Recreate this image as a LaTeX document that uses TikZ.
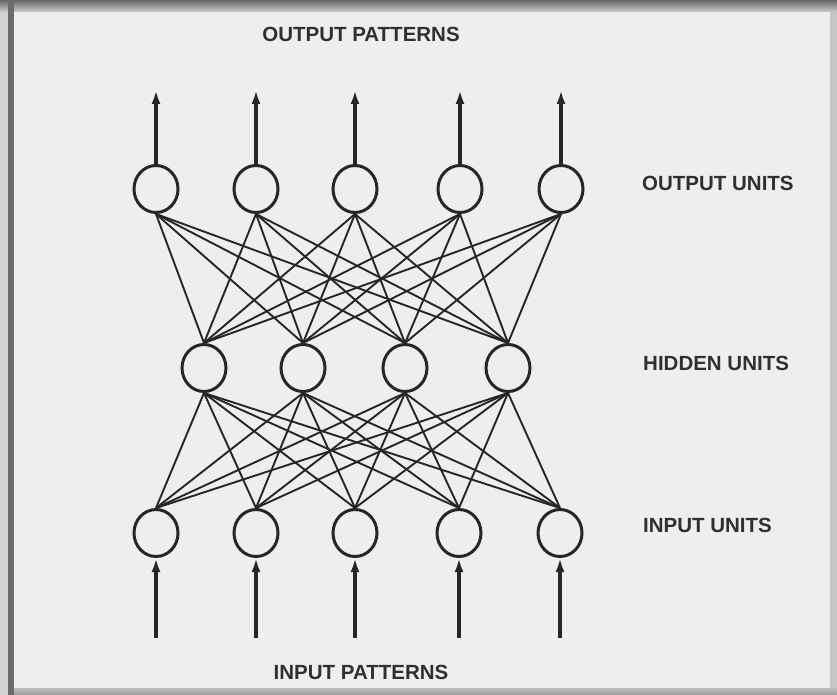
\documentclass[tikz,border=0pt]{standalone}
\usepackage{fontspec}
\setmainfont{Liberation Sans}
\usetikzlibrary{shapes.geometric,arrows.meta}
\definecolor{ink}{HTML}{262626}
\definecolor{paper}{HTML}{EEEEEE}
\definecolor{txt}{HTML}{303030}
\tikzset{
  unit/.style={ellipse,draw=ink,line width=3pt,minimum width=44pt,minimum height=47pt,inner sep=0pt,fill=paper},
  link/.style={draw=ink,line width=1.9pt},
  feed/.style={draw=ink,line width=3.2pt,-{Latex[length=14pt,width=9pt]}},
  lab/.style={font=\fontsize{20.5}{22}\selectfont\bfseries,text=txt,inner sep=0pt}
}
\begin{document}
\begin{tikzpicture}[x=1pt,y=-1pt]
\useasboundingbox (0,0) rectangle (837,695);
% frame and paper
\fill[gray!35] (0,0) rectangle (837,695);
\fill[paper] (14,12) rectangle (830,688);
\shade[top color=gray!80!black,bottom color=gray!40] (0,0) rectangle (837,12);
\fill[gray!85!black] (8,0) rectangle (14,695);
\shade[top color=gray!50,bottom color=gray!80] (14,688) rectangle (837,695);
\fill[gray!45] (830,12) rectangle (837,688);
% connections (drawn first, behind units)
\foreach \n/\x in {1/156,2/256,3/355,4/460,5/561}
  \coordinate (o\n c) at (\x,189);
\foreach \n/\x in {1/156,2/256,3/355,4/460,5/561}
  \node[unit] (o\n) at (\x,189) {};
\foreach \n/\x in {1/204,2/303,3/405,4/508}
  \node[unit] (h\n) at (\x,368) {};
\foreach \n/\x in {1/156,2/256,3/355,4/459,5/560}
  \node[unit] (i\n) at (\x,533) {};
\foreach \a in {1,...,5}
  \foreach \b in {1,...,4}
    \draw[link] (o\a.south) -- (h\b.north);
\foreach \a in {1,...,4}
  \foreach \b in {1,...,5}
    \draw[link] (h\a.south) -- (i\b.north);
% pattern arrows
\foreach \n/\x in {1/156,2/256,3/355,4/460,5/561}{
  \coordinate (t\n) at (\x,90);
  \draw[feed] (o\n.north) -- (t\n);
}
\foreach \n/\x in {1/156,2/256,3/355,4/459,5/560}{
  \coordinate (b\n) at (\x,638);
  \draw[feed] (b\n) -- (i\n.south);
}
% labels
\node[lab] (outpat) at (361,34) {OUTPUT PATTERNS};
\node[lab] (inpat) at (361,672) {INPUT PATTERNS};
\node[lab,anchor=west] (outu) at (642,183) {OUTPUT UNITS};
\node[lab,anchor=west] (hidu) at (643,363) {HIDDEN UNITS};
\node[lab,anchor=west] (inu) at (643,525) {INPUT UNITS};
\end{tikzpicture}
\end{document}
